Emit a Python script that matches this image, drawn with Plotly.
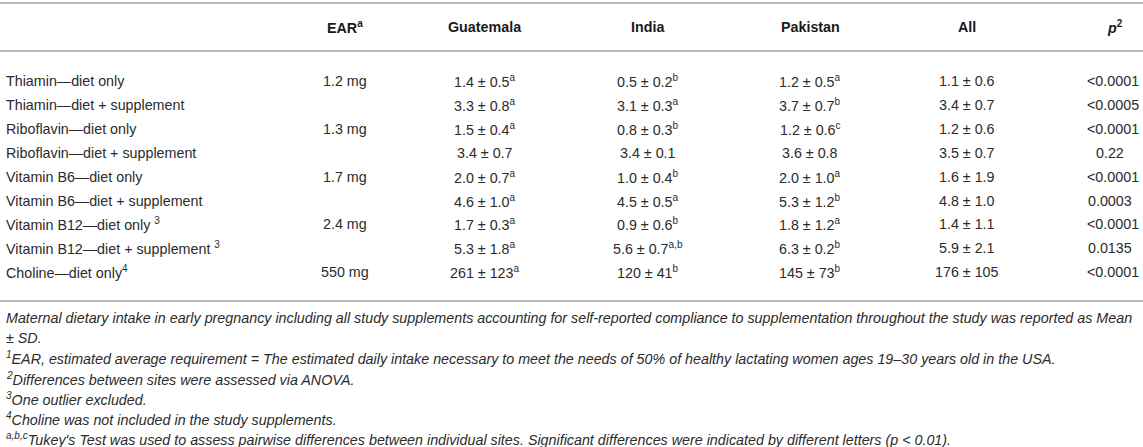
import plotly.graph_objects as go

# Table data
header = ["", "EAR<sup>a</sup>", "Guatemala", "India", "Pakistan", "All", "<i>p</i><sup>2</sup>"]

nutrients = [
    "Thiamin—diet only",
    "Thiamin—diet + supplement",
    "Riboflavin—diet only",
    "Riboflavin—diet + supplement",
    "Vitamin B6—diet only",
    "Vitamin B6—diet + supplement",
    "Vitamin B12—diet only <sup>3</sup>",
    "Vitamin B12—diet + supplement <sup>3</sup>",
    "Choline—diet only<sup>4</sup>",
]
ear = ["1.2 mg", "", "1.3 mg", "", "1.7 mg", "", "2.4 mg", "", "550 mg"]

guatemala = ["1.4 ± 0.5", "3.3 ± 0.8", "1.5 ± 0.4", "3.4 ± 0.7", "2.0 ± 0.7",
             "4.6 ± 1.0", "1.7 ± 0.3", "5.3 ± 1.8", "261 ± 123"]
guatemala_sig = ["a", "a", "a", "", "a", "a", "a", "a", "a"]

india = ["0.5 ± 0.2", "3.1 ± 0.3", "0.8 ± 0.3", "3.4 ± 0.1", "1.0 ± 0.4",
         "4.5 ± 0.5", "0.9 ± 0.6", "5.6 ± 0.7", "120 ± 41"]
india_sig = ["b", "a", "b", "", "b", "a", "b", "a,b", "b"]

pakistan = ["1.2 ± 0.5", "3.7 ± 0.7", "1.2 ± 0.6", "3.6 ± 0.8", "2.0 ± 1.0",
            "5.3 ± 1.2", "1.8 ± 1.2", "6.3 ± 0.2", "145 ± 73"]
pakistan_sig = ["a", "b", "c", "", "a", "b", "a", "b", "b"]

all_sites = ["1.1 ± 0.6", "3.4 ± 0.7", "1.2 ± 0.6", "3.5 ± 0.7", "1.6 ± 1.9",
             "4.8 ± 1.0", "1.4 ± 1.1", "5.9 ± 2.1", "176 ± 105"]

p_values = ["<0.0001", "<0.0005", "<0.0001", "0.22", "<0.0001",
            "0.0003", "<0.0001", "0.0135", "<0.0001"]

footnotes = [
    "Maternal dietary intake in early pregnancy including all study supplements accounting for "
    "self-reported compliance to supplementation throughout the study was reported as Mean",
    "± SD.",
    "<sup>1</sup>EAR, estimated average requirement = The estimated daily intake necessary to meet "
    "the needs of 50% of healthy lactating women ages 19–30 years old in the USA.",
    "<sup>2</sup>Differences between sites were assessed via ANOVA.",
    "<sup>3</sup>One outlier excluded.",
    "<sup>4</sup>Choline was not included in the study supplements.",
    "<sup>a,b,c</sup>Tukey's Test was used to assess pairwise differences between individual sites. "
    "Significant differences were indicated by different letters (p < 0.01).",
]

W, H = 1143, 447
FONT = "Liberation Sans, Arial, Helvetica, sans-serif"
TXT = "#2b2b2b"
RULE = "#b8b8b8"
FS = 14.3

# layout (pixel space of the hidden axes)
col_x = [4, 345, 485, 648, 810, 967, 1110]
p_right = 1141
header_y = 27
row_y0, row_h = 81, 23.9
rules_y = [3, 51, 301]
note_y0, note_h = 318, 20.2


def with_sig(vals, sig):
    return [v + (f"<sup>{s}</sup>" if s else "") for v, s in zip(vals, sig)]


columns = [
    nutrients,
    ear,
    with_sig(guatemala, guatemala_sig),
    with_sig(india, india_sig),
    with_sig(pakistan, pakistan_sig),
    all_sites,
]

annotations = []
for j, h in enumerate(header):
    if h:
        annotations.append(dict(
            x=col_x[j] + (5 if j == 6 else 0), y=header_y, text=f"<b>{h}</b>",
            showarrow=False, xanchor="left" if j == 0 else "center", yanchor="middle",
            font=dict(family=FONT, size=FS, color="#1a1a1a"),
        ))

for j, col in enumerate(columns):
    for i, val in enumerate(col):
        if not val:
            continue
        annotations.append(dict(
            x=col_x[j], y=row_y0 + i * row_h, text=val, showarrow=False,
            xanchor="left" if j == 0 else "center", yanchor="middle",
            font=dict(family=FONT, size=FS, color=TXT),
        ))

# p column: "<" values sit flush right, exact values centred
for i, val in enumerate(p_values):
    lt = val.startswith("<")
    annotations.append(dict(
        x=p_right if lt else col_x[6], y=row_y0 + i * row_h, text=val,
        showarrow=False, xanchor="right" if lt else "center", yanchor="middle",
        font=dict(family=FONT, size=FS, color=TXT),
    ))

for k, note in enumerate(footnotes):
    annotations.append(dict(
        x=col_x[0], y=note_y0 + k * note_h, text=f"<i>{note}</i>", showarrow=False,
        xanchor="left", yanchor="middle",
        font=dict(family=FONT, size=FS, color=TXT),
    ))

shapes = [
    dict(type="line", xref="x", yref="y", x0=0, x1=W, y0=yy, y1=yy,
         line=dict(color=RULE, width=2))
    for yy in rules_y
]

fig = go.Figure()
fig.update_layout(
    width=W, height=H,
    margin=dict(l=0, r=0, t=0, b=0),
    paper_bgcolor="white", plot_bgcolor="white",
    xaxis=dict(range=[0, W], visible=False, fixedrange=True),
    yaxis=dict(range=[H, 0], visible=False, fixedrange=True),
    annotations=annotations,
    shapes=shapes,
    showlegend=False,
)

fig.write_html("out.html", post_script="document.body.style.margin='0';",
               config={"displayModeBar": False})
